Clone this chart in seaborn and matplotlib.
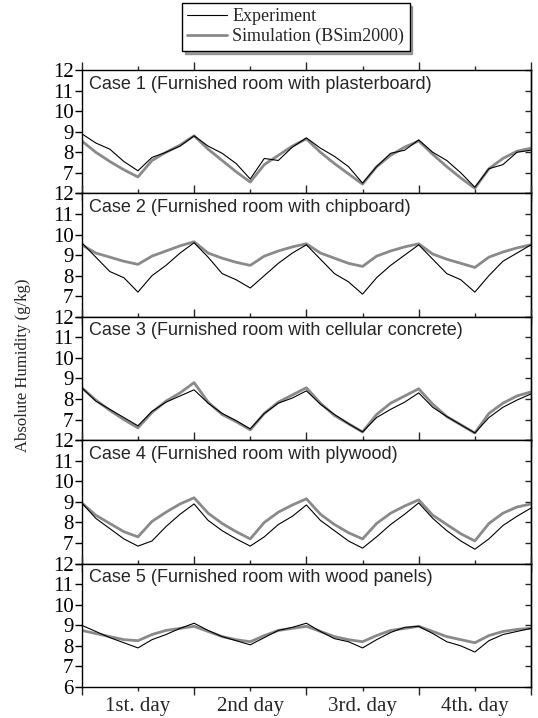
import numpy as np
import pandas as pd
import matplotlib
matplotlib.use("Agg")
import matplotlib.pyplot as plt
from matplotlib.ticker import MultipleLocator, FixedLocator
import seaborn as sns

hours = list(range(0, 97, 3))

case_titles = [
    "Case 1 (Furnished room with plasterboard)",
    "Case 2 (Furnished room with chipboard)",
    "Case 3 (Furnished room with cellular concrete)",
    "Case 4 (Furnished room with plywood)",
    "Case 5 (Furnished room with wood panels)",
]

# Experiment (g/kg)
exp1 = [8.9, 8.45, 8.15, 7.55, 7.1, 7.75, 8.0, 8.3, 8.8, 8.3, 7.95, 7.45, 6.7, 7.7, 7.6, 8.25, 8.7,
        8.2, 7.8, 7.3, 6.5, 7.3, 7.95, 8.1, 8.6, 8.0, 7.6, 7.0, 6.3, 7.2, 7.4, 8.0, 8.1]
exp2 = [9.6, 8.9, 8.2, 7.9, 7.2, 8.0, 8.5, 9.1, 9.6, 8.9, 8.1, 7.8, 7.4, 8.0, 8.6, 9.1, 9.5,
        8.8, 8.1, 7.7, 7.1, 7.9, 8.5, 9.0, 9.5, 8.8, 8.1, 7.8, 7.2, 8.0, 8.7, 9.1, 9.5]
exp3 = [8.55, 7.9, 7.5, 7.1, 6.7, 7.4, 7.85, 8.15, 8.45, 7.8, 7.3, 6.95, 6.55, 7.3, 7.8, 8.05, 8.4,
        7.75, 7.25, 6.8, 6.4, 7.1, 7.5, 7.85, 8.3, 7.6, 7.15, 6.75, 6.35, 7.1, 7.6, 7.95, 8.25]
exp4 = [8.95, 8.2, 7.7, 7.2, 6.85, 7.1, 7.8, 8.4, 8.9, 8.1, 7.6, 7.2, 6.85, 7.3, 7.9, 8.3, 8.85,
        8.1, 7.6, 7.1, 6.75, 7.3, 7.9, 8.4, 8.95, 8.2, 7.6, 7.1, 6.7, 7.2, 7.85, 8.3, 8.7]
exp5 = [9.0, 8.7, 8.4, 8.15, 7.9, 8.3, 8.55, 8.85, 9.1, 8.75, 8.45, 8.25, 8.05, 8.4, 8.75, 8.9, 9.1,
        8.7, 8.35, 8.2, 7.9, 8.3, 8.65, 8.9, 8.95, 8.6, 8.2, 8.0, 7.7, 8.25, 8.55, 8.7, 8.85]

# Simulation BSim2000 (g/kg)
sim1 = [8.55, 8.0, 7.55, 7.15, 6.8, 7.6, 8.0, 8.35, 8.8, 8.15, 7.6, 7.05, 6.55, 7.4, 7.85, 8.3, 8.65,
        8.0, 7.45, 6.95, 6.45, 7.3, 7.85, 8.25, 8.55, 7.9, 7.3, 6.75, 6.25, 7.2, 7.7, 8.05, 8.2]
sim2 = [9.5, 9.1, 8.9, 8.7, 8.55, 8.95, 9.2, 9.45, 9.65, 9.1, 8.85, 8.65, 8.5, 8.95, 9.2, 9.4, 9.55,
        9.1, 8.85, 8.6, 8.45, 8.95, 9.2, 9.4, 9.55, 9.05, 8.8, 8.6, 8.4, 8.9, 9.15, 9.35, 9.5]
sim3 = [8.55, 7.95, 7.45, 7.0, 6.6, 7.35, 7.9, 8.3, 8.8, 7.85, 7.25, 6.9, 6.5, 7.3, 7.85, 8.2, 8.55,
        7.8, 7.2, 6.8, 6.4, 7.25, 7.8, 8.15, 8.5, 7.75, 7.15, 6.75, 6.35, 7.3, 7.8, 8.15, 8.35]
sim4 = [8.95, 8.35, 7.95, 7.55, 7.3, 8.05, 8.5, 8.9, 9.2, 8.45, 7.95, 7.55, 7.2, 8.0, 8.5, 8.85, 9.15,
        8.4, 7.9, 7.5, 7.2, 7.95, 8.45, 8.8, 9.1, 8.35, 7.9, 7.45, 7.1, 7.95, 8.45, 8.75, 8.9]
sim5 = [8.75, 8.6, 8.45, 8.3, 8.25, 8.55, 8.75, 8.85, 8.95, 8.7, 8.45, 8.3, 8.2, 8.5, 8.75, 8.85, 8.95,
        8.7, 8.45, 8.3, 8.2, 8.5, 8.75, 8.85, 8.95, 8.7, 8.45, 8.3, 8.15, 8.5, 8.7, 8.8, 8.85]

experiments = [exp1, exp2, exp3, exp4, exp5]
simulations = [sim1, sim2, sim3, sim4, sim5]

day_labels = ["1st. day", "2nd day", "3rd. day", "4th. day"]

sns.set_style("ticks")
plt.rcParams['font.family'] = ['Liberation Serif', 'DejaVu Serif']

fig = plt.figure(figsize=(5.38, 7.18), dpi=100)
gs = fig.add_gridspec(5, 1, left=0.152, right=0.987, top=0.9025, bottom=0.0432, hspace=0)
axes = [fig.add_subplot(gs[i]) for i in range(5)]

for i, ax in enumerate(axes):
    df = pd.DataFrame({"hour": hours, "exp": experiments[i], "sim": simulations[i]})
    sns.lineplot(data=df, x="hour", y="sim", ax=ax, color="#8a8a8a", linewidth=2.0,
                 label="Simulation (BSim2000)" if i == 0 else None, legend=False)
    sns.lineplot(data=df, x="hour", y="exp", ax=ax, color="black", linewidth=0.8,
                 label="Experiment" if i == 0 else None, legend=False)
    ax.set_xlim(0, 96)
    ax.set_ylim(6, 12)
    ax.set_xlabel("")
    ax.set_ylabel("")
    for s in ax.spines.values():
        s.set_visible(True)
        s.set_linewidth(1.0)
        s.set_color("black")

    ax.set_yticks(range(6, 13))
    ax.set_yticklabels([str(v) if (v > 6 or i == 4) else "" for v in range(6, 13)])
    ax.tick_params(axis="y", which="major", direction="out", length=5, width=1,
                   labelsize=15, pad=1, colors="black")
    # rechte Achse: Striche nach innen
    sec = ax.secondary_yaxis("right")
    sec.set_yticks(range(6, 13))
    sec.tick_params(direction="in", length=4, width=1, labelright=False)
    sec.spines["right"].set_linewidth(1.0)

    ax.xaxis.set_major_locator(FixedLocator([0, 24, 48, 72, 96]))
    ax.xaxis.set_minor_locator(FixedLocator([12, 36, 60, 84]))
    ax.tick_params(axis="x", which="major", direction="out", length=6, width=1,
                   top=True, labelbottom=False)
    ax.tick_params(axis="x", which="minor", direction="out", length=3, width=1,
                   top=True, labelbottom=False)

    ax.text(0.016, 0.955, case_titles[i], transform=ax.transAxes, ha="left", va="top",
            fontsize=13, family=["Liberation Sans", "DejaVu Sans"])

axes[-1].set_xticks([12, 36, 60, 84], minor=True)
axes[-1].set_xticklabels(day_labels, minor=True)
axes[-1].tick_params(axis="x", which="minor", labelbottom=True, labelsize=15, pad=4)

fig.text(0.043, 0.4916, "Absolute Humidity (g/kg)", rotation=90, ha="center", va="center",
         fontsize=12)

handles, labs = axes[0].get_legend_handles_labels()
order = [labs.index("Experiment"), labs.index("Simulation (BSim2000)")]
fig.legend([handles[k] for k in order], [labs[k] for k in order],
           loc="upper left", bbox_to_anchor=(0.338, 0.996), frameon=True, fancybox=False,
           edgecolor="black", fontsize=13, handlelength=2.2, handletextpad=0.3,
           borderpad=0.3, labelspacing=0.15, borderaxespad=0, shadow=True)

plt.savefig("out.png", dpi=100)
